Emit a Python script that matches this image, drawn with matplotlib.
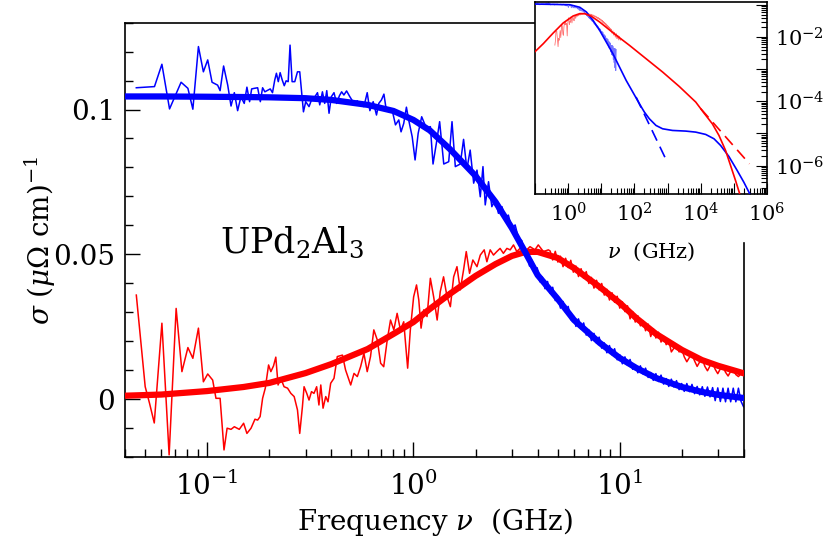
import numpy as np
import matplotlib
matplotlib.use("Agg")
import matplotlib.pyplot as plt
from matplotlib.ticker import (FixedLocator, FixedFormatter, LogLocator,
                               NullFormatter, FuncFormatter, MultipleLocator)

# ---------------- data (main panel) ----------------
# smooth fit curves
fit_freq = [0.04, 0.06, 0.1, 0.15, 0.2, 0.3, 0.4, 0.6, 0.8, 1.0, 1.2, 1.5, 2.0, 2.5,
            3.0, 3.5, 4, 5, 6, 7, 8, 10, 12, 15, 20, 25, 30, 40]
blue_fit = [0.1045, 0.1045, 0.1044, 0.1043, 0.1042, 0.1039, 0.1033, 0.1016, 0.0995, 0.0964,
            0.0928, 0.0864, 0.0771, 0.0681, 0.0591, 0.0505, 0.0429, 0.0347, 0.0274, 0.0232,
            0.0195, 0.0143, 0.0109, 0.0074, 0.0043, 0.0026, 0.0016, 0.0005]
red_fit = [0.0013, 0.0017, 0.0029, 0.0043, 0.0057, 0.0091, 0.0122, 0.0174, 0.0226, 0.0267,
           0.0312, 0.0364, 0.0426, 0.0467, 0.0495, 0.0509, 0.0509, 0.0488, 0.0453, 0.0418,
           0.0388, 0.0333, 0.0281, 0.0226, 0.0171, 0.0136, 0.0116, 0.0090]

# measured sigma_1 (blue); frequencies given as log10(GHz)
blue_data_log10_freq = [
    -1.343, -1.255, -1.219, -1.182, -1.126, -1.093, -1.069, -1.042, -1.018, -0.997,
    -0.976, -0.949, -0.937, -0.920, -0.900, -0.884, -0.868, -0.852, -0.836, -0.820,
    -0.807, -0.794, -0.784, -0.771, -0.755, -0.742, -0.731, -0.720, -0.694, -0.683,
    -0.672, -0.664, -0.655, -0.646, -0.636, -0.626, -0.617, -0.607, -0.598, -0.588,
    -0.575, -0.562, -0.551, -0.533, -0.522, -0.506, -0.494, -0.482, -0.465, -0.454,
    -0.441, -0.430, -0.420, -0.409, -0.398, -0.385, -0.372, -0.359, -0.348, -0.337,
    -0.324, -0.308, -0.288, -0.272, -0.256, -0.240, -0.224, -0.211, -0.195, -0.179,
    -0.168, -0.155, -0.143, -0.134, -0.119, -0.103, -0.087, -0.071, -0.060, -0.047,
    -0.034, -0.023, -0.006, 0.008, 0.023, 0.040, 0.063, 0.082, 0.095, 0.111,
    0.127, 0.147, 0.171, 0.187, 0.203, 0.227, 0.243, 0.259, 0.275, 0.292,
    0.308, 0.324, 0.337, 0.348, 0.364, 0.380, 0.396, 0.412, 0.429, 0.444,
    0.460, 0.477, 0.493, 0.509,
    0.5250, 0.5375, 0.5500, 0.5625, 0.5750, 0.5875, 0.6000, 0.6125, 0.6250, 0.6375,
    0.6500, 0.6625, 0.6750, 0.6875, 0.7000, 0.7125, 0.7250, 0.7375, 0.7500, 0.7625,
    0.7750, 0.7875, 0.8000, 0.8125, 0.8250, 0.8375, 0.8500, 0.8625, 0.8750, 0.8875,
    0.9000, 0.9125, 0.9250, 0.9375, 0.9500, 0.9625, 0.9750, 0.9875, 1.0000, 1.0125,
    1.0250, 1.0375, 1.0500, 1.0625, 1.0750, 1.0875, 1.1000, 1.1125, 1.1250, 1.1375,
    1.1500, 1.1625, 1.1750, 1.1875, 1.2000, 1.2125, 1.2250, 1.2375, 1.2500, 1.2625,
    1.2750, 1.2875, 1.3000, 1.3125, 1.3250, 1.3375, 1.3500, 1.3625, 1.3750, 1.3875,
    1.4000, 1.4125, 1.4250, 1.4375, 1.4500, 1.4625, 1.4750, 1.4875, 1.5000, 1.5125,
    1.5250, 1.5375, 1.5500, 1.5625, 1.5750, 1.5875, 1.6000]
blue_data_sigma = [
    0.1075, 0.1079, 0.1156, 0.1002, 0.1094, 0.1073, 0.1001, 0.1217, 0.1130, 0.1171,
    0.1094, 0.1084, 0.1065, 0.1150, 0.1084, 0.1012, 0.1058, 0.0996, 0.1044, 0.1021,
    0.1077, 0.1027, 0.1071, 0.1073, 0.1075, 0.1027, 0.1075, 0.1061, 0.1071, 0.1058,
    0.1102, 0.1125, 0.1096, 0.1127, 0.1102, 0.1082, 0.1099, 0.1096, 0.1222, 0.1096,
    0.1096, 0.1130, 0.1130, 0.0992, 0.1027, 0.1010, 0.1033, 0.1039, 0.1058, 0.1016,
    0.1061, 0.1021, 0.1065, 0.0987, 0.1044, 0.1058, 0.1021, 0.1047, 0.1061, 0.1050,
    0.1064, 0.1044, 0.1021, 0.1030, 0.1014, 0.1010, 0.1058, 0.0996, 0.1027, 0.0981,
    0.1021, 0.1033, 0.1053, 0.1010, 0.0992, 0.0998, 0.0947, 0.0964, 0.0923, 0.0952,
    0.1008, 0.0964, 0.0906, 0.0826, 0.0918, 0.0975, 0.0935, 0.0941, 0.0812, 0.0883,
    0.0958, 0.0812, 0.0820, 0.0958, 0.0803, 0.0812, 0.0897, 0.0794, 0.0860, 0.0746,
    0.0791, 0.0699, 0.0803, 0.0671, 0.0751, 0.0665, 0.0688, 0.0642, 0.0665, 0.0625,
    0.0636, 0.0590, 0.0602, 0.0556,
    0.0548, 0.0499, 0.0507, 0.0460, 0.0480, 0.0440, 0.0454, 0.0406, 0.0422, 0.0382,
    0.0407, 0.0366, 0.0387, 0.0341, 0.0356, 0.0315, 0.0338, 0.0301, 0.0321, 0.0275,
    0.0289, 0.0252, 0.0278, 0.0243, 0.0264, 0.0222, 0.0240, 0.0203, 0.0228, 0.0194,
    0.0215, 0.0177, 0.0195, 0.0161, 0.0186, 0.0154, 0.0175, 0.0137, 0.0154, 0.0123,
    0.0147, 0.0118, 0.0138, 0.0104, 0.0120, 0.0092, 0.0116, 0.0088, 0.0108, 0.0076,
    0.0093, 0.0066, 0.0089, 0.0062, 0.0084, 0.0053, 0.0072, 0.0045, 0.0070, 0.0043,
    0.0065, 0.0034, 0.0055, 0.0028, 0.0055, 0.0027, 0.0052, 0.0020, 0.0045, 0.0016,
    0.0044, 0.0011, 0.0043, 0.0009, 0.0041, -0.0004, 0.0040, -0.0007, 0.0039, -0.0008,
    0.0039, -0.0008, 0.0039, -0.0008, 0.0039, -0.0006, -0.0025]

# measured sigma_2 (red)
red_data_log10_freq = [
    -1.343, -1.300, -1.279, -1.256, -1.219, -1.184, -1.150, -1.122, -1.093, -1.069,
    -1.042, -1.018, -0.997, -0.973, -0.957, -0.937, -0.918, -0.903, -0.884, -0.868,
    -0.844, -0.823, -0.807, -0.787, -0.768, -0.755, -0.743, -0.731, -0.718, -0.702,
    -0.691, -0.678, -0.667, -0.656, -0.643, -0.627, -0.610, -0.594, -0.578, -0.562,
    -0.551, -0.538, -0.530, -0.517, -0.506, -0.494, -0.482, -0.469, -0.458, -0.449,
    -0.438, -0.425, -0.414, -0.401, -0.385,
    -0.369, -0.344, -0.329, -0.304, -0.288, -0.272, -0.256, -0.240, -0.224, -0.208,
    -0.192, -0.175, -0.159, -0.144, -0.127, -0.111, -0.095, -0.079, -0.063, -0.047,
    -0.028, -0.015, 0.001, 0.015, 0.026, 0.037, 0.050, 0.066, 0.082, 0.098,
    0.115, 0.130, 0.146, 0.163, 0.179, 0.195, 0.211, 0.227, 0.243, 0.256,
    0.272, 0.288, 0.308, 0.324, 0.343, 0.356, 0.372, 0.388, 0.404, 0.420,
    0.436, 0.453, 0.469, 0.485, 0.501, 0.525, 0.549, 0.565, 0.589, 0.605,
    0.630, 0.654,
    0.6625, 0.6750, 0.6875, 0.7000, 0.7125, 0.7250, 0.7375, 0.7500, 0.7625, 0.7750,
    0.7875, 0.8000, 0.8125, 0.8250, 0.8375, 0.8500, 0.8625, 0.8750, 0.8875, 0.9000,
    0.9125, 0.9250, 0.9375, 0.9500, 0.9625, 0.9750, 0.9875, 1.0000, 1.0125, 1.0250,
    1.0375, 1.0500, 1.0625, 1.0750, 1.0875, 1.1000, 1.1125, 1.1250, 1.1375, 1.1500,
    1.1625, 1.1750, 1.1875, 1.2000, 1.2125, 1.2250, 1.2375, 1.2500, 1.2625, 1.2750,
    1.2875, 1.3000, 1.3125, 1.3250, 1.3375, 1.3500, 1.3625, 1.3750, 1.3875, 1.4000,
    1.4125, 1.4250, 1.4375, 1.4500, 1.4625, 1.4750, 1.4875, 1.5000, 1.5125, 1.5250,
    1.5375, 1.5500, 1.5625, 1.5750, 1.5875, 1.6000]
red_data_sigma = [
    0.0360, 0.0044, -0.0013, -0.0081, 0.0263, -0.0191, 0.0314, 0.0096, 0.0179, 0.0142,
    0.0246, 0.0061, 0.0088, 0.0067, 0.0004, 0.0004, -0.0174, -0.0099, -0.0103, -0.0094,
    -0.0103, -0.0082, -0.0117, -0.0099, -0.0068, -0.0071, -0.0059, 0.0004, 0.0039, 0.0119,
    0.0096, 0.0116, 0.0146, 0.0050, 0.0073, 0.0044, 0.0039, 0.0021, 0.0010, -0.0036,
    -0.0117, -0.0025, 0.0044, 0.0021, -0.0002, 0.0027, 0.0021, 0.0044, -0.0019, 0.0050,
    -0.0030, 0.0010, -0.0008, 0.0056, 0.0073,
    0.0148, 0.0153, 0.0102, 0.0050, 0.0090, 0.0079, 0.0113, 0.0159, 0.0096, 0.0148,
    0.0240, 0.0205, 0.0125, 0.0113, 0.0205, 0.0274, 0.0240, 0.0297, 0.0240, 0.0268,
    0.0108, 0.0240, 0.0354, 0.0395, 0.0343, 0.0246, 0.0309, 0.0286, 0.0418, 0.0354,
    0.0274, 0.0372, 0.0423, 0.0354, 0.0320, 0.0423, 0.0458, 0.0378, 0.0447, 0.0510,
    0.0435, 0.0481, 0.0458, 0.0498, 0.0516, 0.0475, 0.0516, 0.0498, 0.0510, 0.0521,
    0.0504, 0.0521, 0.0516, 0.0533, 0.0510, 0.0527, 0.0516, 0.0527, 0.0516, 0.0533,
    0.0510, 0.0516,
    0.0512, 0.0481, 0.0511, 0.0474, 0.0494, 0.0458, 0.0487, 0.0455, 0.0480, 0.0439,
    0.0460, 0.0424, 0.0451, 0.0418, 0.0441, 0.0400, 0.0421, 0.0384, 0.0411, 0.0378,
    0.0400, 0.0360, 0.0380, 0.0343, 0.0368, 0.0335, 0.0356, 0.0315, 0.0337, 0.0303,
    0.0323, 0.0278, 0.0303, 0.0267, 0.0289, 0.0254, 0.0272, 0.0237, 0.0260, 0.0217,
    0.0244, 0.0212, 0.0232, 0.0198, 0.0218, 0.0189, 0.0203, 0.0164, 0.0177, 0.0187,
    0.0164, 0.0175, 0.0147, 0.0130, 0.0145, 0.0157, 0.0133, 0.0114, 0.0130, 0.0139,
    0.0114, 0.0099, 0.0116, 0.0127, 0.0104, 0.0089, 0.0106, 0.0114, 0.0094, 0.0081,
    0.0097, 0.0103, 0.0086, 0.0079, 0.0089, 0.0084]

# ---------------- data (inset, log10 units) ----------------
inset_blue_log10_freq = [-1.01, 0.05, 0.35, 0.55, 0.75, 0.95, 1.15, 1.35, 1.55, 1.75,
                         1.95, 2.15, 2.30, 2.45, 2.65, 2.85, 3.15, 3.55, 3.85, 4.15,
                         4.40, 4.60, 4.85, 5.10, 5.30, 5.47]
inset_blue_log10_sigma = [-0.975, -0.995, -1.075, -1.221, -1.481, -1.792, -2.156, -2.519, -2.935, -3.350,
                          -3.713, -4.077, -4.336, -4.544, -4.752, -4.856, -4.908, -4.928, -4.960, -5.032,
                          -5.167, -5.375, -5.718, -6.154, -6.517, -6.860]
inset_blue_dash_log10_freq = [2.05, 3.00]
inset_blue_dash_log10_sigma = [-3.869, -5.915]
inset_red_log10_freq = [-1.01, -0.75, -0.45, -0.15, 0.15, 0.35, 0.50, 0.70, 0.95, 1.35,
                        1.85, 2.35, 2.85, 3.35, 3.85, 4.10, 4.35, 4.55, 4.75, 4.90,
                        5.05, 5.17]
inset_red_log10_sigma = [-2.467, -2.208, -1.875, -1.564, -1.346, -1.273, -1.273, -1.356, -1.533, -1.865,
                         -2.260, -2.675, -3.090, -3.537, -4.025, -4.368, -4.700, -5.063, -5.531, -5.998,
                         -6.465, -6.860]
inset_red_dash_log10_freq = [4.00, 5.47]
inset_red_dash_log10_sigma = [-4.23, -5.946]

main_ytick_values = [0, 0.05, 0.1]
main_ytick_labels = ['0', '0.05', '0.1']
inset_xlabel_exponents = [0, 2, 4, 6]
inset_ylabel_exponents = [-2, -4, -6]

# ---------------- figure ----------------
plt.rcParams['font.family'] = ['DejaVu Serif']
plt.rcParams['mathtext.fontset'] = 'dejavuserif'

fig = plt.figure(figsize=(8.31, 5.45), dpi=100)
ax = fig.add_axes([0.1504, 0.1606, 0.7449, 0.7981])

blue_f = 10.0 ** np.array(blue_data_log10_freq)
red_f = 10.0 ** np.array(red_data_log10_freq)

ax.plot(red_f, red_data_sigma, color='#ff0000', lw=1.1, zorder=2)
ax.plot(blue_f, blue_data_sigma, color='#0000ff', lw=1.1, zorder=2)
ax.plot(fit_freq, red_fit, color='#ff0000', lw=4.5, zorder=3)
ax.plot(fit_freq, blue_fit, color='#0000ff', lw=4.5, zorder=4)

ax.set_xscale('log')
ax.set_xlim(0.04, 40)
ax.set_ylim(-0.02, 0.13)

ax.xaxis.set_minor_locator(LogLocator(base=10, subs=np.arange(2, 10)))
ax.xaxis.set_minor_formatter(NullFormatter())
ax.yaxis.set_major_locator(FixedLocator(main_ytick_values))
ax.yaxis.set_major_formatter(FixedFormatter(main_ytick_labels))
ax.yaxis.set_minor_locator(MultipleLocator(0.01))

ax.tick_params(which='both', direction='in', top=False, right=False, width=1.0)
ax.tick_params(which='major', length=11, labelsize=20)
ax.tick_params(axis='x', which='major', pad=10)
ax.tick_params(axis='y', which='major', pad=7)
ax.tick_params(which='minor', length=6)
for s in ax.spines.values():
    s.set_linewidth(1.2)
ax.spines['right'].set_bounds(-0.02, 0.054)

ax.text(0.5, -0.148, r'Frequency $\nu$  (GHz)', transform=ax.transAxes,
        ha='center', va='center', fontsize=20)
ax.text(-0.136, 0.50, r'$\sigma$ $(\mu\Omega$ cm$)^{-1}$', transform=ax.transAxes,
        ha='center', va='center', rotation=90, fontsize=20)
ax.text(0.27, 0.493, r'UPd$_2$Al$_3$', transform=ax.transAxes,
        ha='center', va='center', fontsize=25)

# ---------------- inset ----------------
axin = fig.add_axes([0.6438, 0.644, 0.2792, 0.3528])
axin.set_facecolor('white')
axin.set_xscale('log')
axin.set_yscale('log', nonpositive='mask')

fmask = red_f >= 0.35
axin.plot(red_f[fmask], np.array(red_data_sigma)[fmask], color='#ff0000', lw=0.6, alpha=0.55, zorder=2)
axin.plot(blue_f, blue_data_sigma, color='#0000ff', lw=0.6, alpha=0.55, zorder=2)

axin.plot(10.0 ** np.array(inset_blue_log10_freq), 10.0 ** np.array(inset_blue_log10_sigma),
          color='#0000ff', lw=1.2, zorder=3)
axin.plot(10.0 ** np.array(inset_blue_dash_log10_freq), 10.0 ** np.array(inset_blue_dash_log10_sigma),
          color='#0000ff', lw=1.2, ls=(0, (7, 4)), zorder=3)
axin.plot(10.0 ** np.array(inset_red_log10_freq), 10.0 ** np.array(inset_red_log10_sigma),
          color='#ff0000', lw=1.2, zorder=3)
axin.plot(10.0 ** np.array(inset_red_dash_log10_freq), 10.0 ** np.array(inset_red_dash_log10_sigma),
          color='#ff0000', lw=1.2, ls=(0, (7, 4)), zorder=3)

axin.set_xlim(0.1, 1e6)
axin.set_ylim(1.3e-7, 0.125)

def xfmt(v, pos):
    e = int(round(np.log10(v)))
    return r'$10^{%d}$' % e if e in inset_xlabel_exponents else ''

def yfmt(v, pos):
    e = int(round(np.log10(v)))
    return r'$10^{%d}$' % e if e in inset_ylabel_exponents else ''

axin.xaxis.set_major_locator(LogLocator(base=10, numticks=20))
axin.xaxis.set_minor_locator(LogLocator(base=10, subs=np.arange(2, 10), numticks=20))
axin.xaxis.set_major_formatter(FuncFormatter(xfmt))
axin.xaxis.set_minor_formatter(NullFormatter())
axin.yaxis.set_major_locator(LogLocator(base=10, numticks=20))
axin.yaxis.set_minor_locator(LogLocator(base=10, subs=np.arange(2, 10), numticks=20))
axin.yaxis.set_major_formatter(FuncFormatter(yfmt))
axin.yaxis.set_minor_formatter(NullFormatter())

axin.tick_params(which='both', direction='in', left=False, top=False, right=True,
                 bottom=True, labelleft=False, labelright=True, width=0.8)
axin.tick_params(which='major', length=8, labelsize=15, pad=6)
axin.tick_params(which='minor', length=4.5)
for s in axin.spines.values():
    s.set_linewidth(1.2)
axin.text(0.5, -0.30, r'$\nu$  (GHz)', transform=axin.transAxes,
          ha='center', va='center', fontsize=15)

fig.savefig('out.png', dpi=100)
